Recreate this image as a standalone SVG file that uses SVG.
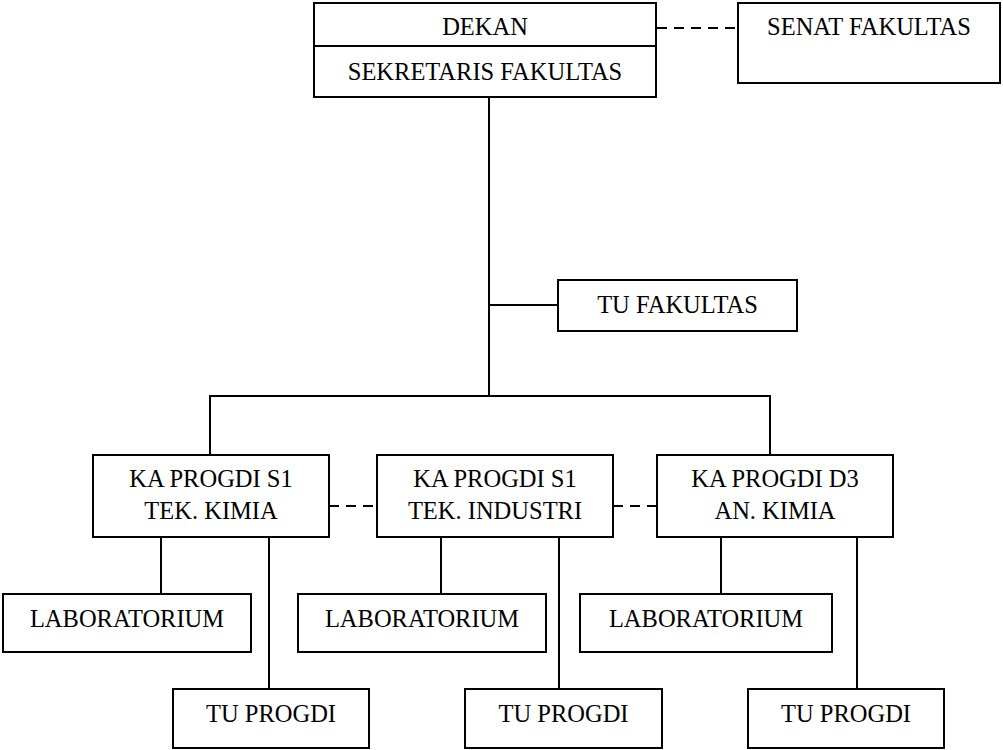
<svg xmlns="http://www.w3.org/2000/svg" width="1003" height="750" viewBox="0 0 1003 750">
<style>
.box{fill:#fff;stroke:#000;stroke-width:2}
.t{font-family:"Liberation Serif","Times New Roman",serif;font-size:24.5px;fill:#000;text-anchor:middle}
.ln{fill:none;stroke:#000;stroke-width:2}
.dash{fill:none;stroke:#000;stroke-width:2;stroke-dasharray:10 7}
</style>
<rect width="1003" height="750" fill="#fff"/>
<g id="connectors">
<line class="ln" x1="489" y1="97" x2="489" y2="396" stroke-width="2.5"/>
<line class="ln" x1="489" y1="305" x2="558" y2="305"/>
<polyline class="ln" points="210,455 210,396 770,396 770,455" stroke-width="2.5"/>
<line class="dash" x1="657" y1="28" x2="738" y2="28"/>
<line class="dash" x1="329" y1="506" x2="377" y2="506"/>
<line class="dash" x1="613" y1="506" x2="657" y2="506"/>
<line class="ln" x1="161" y1="537" x2="161" y2="594"/>
<line class="ln" x1="269" y1="537" x2="269" y2="689"/>
<line class="ln" x1="441" y1="537" x2="441" y2="594"/>
<line class="ln" x1="559" y1="537" x2="559" y2="689"/>
<line class="ln" x1="721" y1="537" x2="721" y2="594"/>
<line class="ln" x1="857" y1="537" x2="857" y2="689"/>
</g>
<g id="dekan">
<rect class="box" x="314" y="3" width="342" height="94"/>
<line class="ln" x1="314" y1="46" x2="656" y2="46"/>
<text class="t" x="485" y="35">DEKAN</text>
<text class="t" x="485" y="80">SEKRETARIS FAKULTAS</text>
</g>
<g id="senat">
<rect class="box" x="738" y="3" width="262" height="80"/>
<text class="t" x="869" y="35">SENAT FAKULTAS</text>
</g>
<g id="tu-fakultas">
<rect class="box" x="558" y="280" width="239" height="51"/>
<text class="t" x="677.5" y="313">TU FAKULTAS</text>
</g>
<g id="ka-kimia">
<rect class="box" x="93" y="455" width="236" height="82"/>
<text class="t" x="211" y="487">KA PROGDI S1</text>
<text class="t" x="211" y="519">TEK. KIMIA</text>
</g>
<g id="ka-industri">
<rect class="box" x="377" y="455" width="236" height="82"/>
<text class="t" x="495" y="487">KA PROGDI S1</text>
<text class="t" x="495" y="519">TEK. INDUSTRI</text>
</g>
<g id="ka-d3">
<rect class="box" x="657" y="455" width="236" height="82"/>
<text class="t" x="775" y="487">KA PROGDI D3</text>
<text class="t" x="775" y="519">AN. KIMIA</text>
</g>
<g id="lab1">
<rect class="box" x="3" y="594" width="248" height="58"/>
<text class="t" x="127" y="627">LABORATORIUM</text>
</g>
<g id="lab2">
<rect class="box" x="298" y="594" width="248" height="58"/>
<text class="t" x="422" y="627">LABORATORIUM</text>
</g>
<g id="lab3">
<rect class="box" x="580" y="594" width="252" height="58"/>
<text class="t" x="706" y="627">LABORATORIUM</text>
</g>
<g id="tu1">
<rect class="box" x="173" y="689" width="196" height="59"/>
<text class="t" x="271" y="722">TU PROGDI</text>
</g>
<g id="tu2">
<rect class="box" x="465" y="689" width="197" height="59"/>
<text class="t" x="563.5" y="722">TU PROGDI</text>
</g>
<g id="tu3">
<rect class="box" x="748" y="689" width="196" height="59"/>
<text class="t" x="846" y="722">TU PROGDI</text>
</g>
</svg>
